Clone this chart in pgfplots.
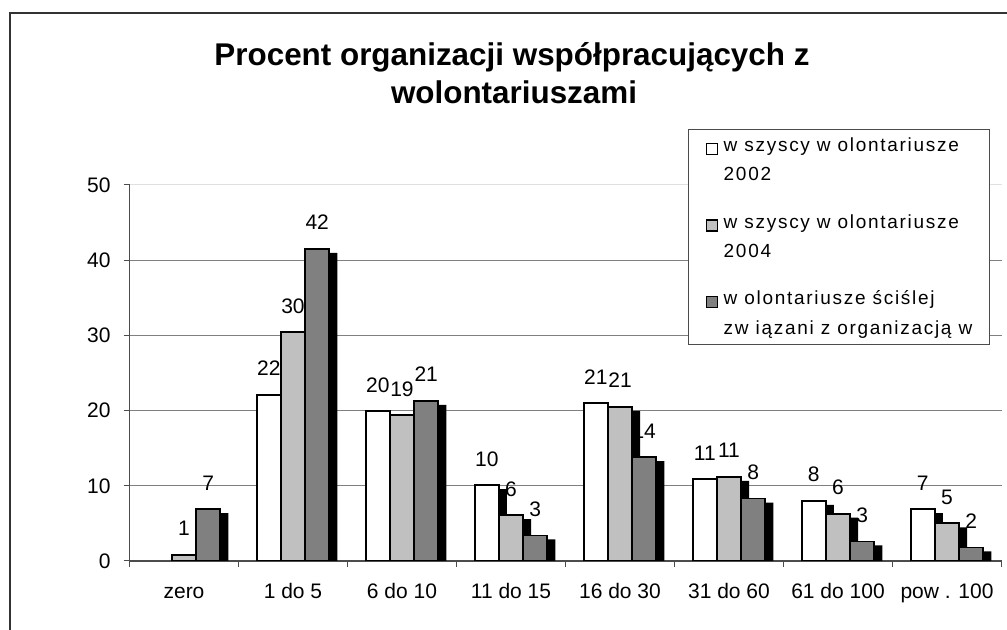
\documentclass[border=0pt]{standalone}
\usepackage{fontspec}
\setmainfont{Liberation Sans}
\newfontfamily\legfont[LetterSpace=9]{Liberation Sans}
\usepackage{pgfplots}
\usepackage{pgfplotstable}
\pgfplotsset{compat=1.18}
\definecolor{gA}{HTML}{FFFFFF}
\definecolor{gB}{HTML}{C0C0C0}
\definecolor{gC}{HTML}{808080}
\pgfplotsset{sqlegend/.style={legend image code/.code={\draw[##1,draw=black,line width=0.6pt] (0pt,-1.5pt) rectangle (5.5pt,4pt);}}}
\pgfplotstableread{
x a b c la lb lc
0 0 0.8 6.9 0 1 7
1 22.1 30.4 41.5 22 30 42
2 19.9 19.4 21.3 20 19 21
3 10.1 6.1 3.4 10 6 3
4 21.0 20.5 13.8 21 21 14
5 10.9 11.2 8.3 11 11 8
6 8.0 6.3 2.6 8 6 3
7 6.9 5.0 1.8 7 5 2
}\data
\begin{document}
\begin{tikzpicture}
\useasboundingbox (0,0) rectangle (503.5pt,315pt);
\draw[line width=1pt, black!80] (5pt,-5pt) -- (5pt,308.5pt) -- (510pt,308.5pt);
\node[anchor=base, font=\bfseries\fontsize{15.7}{18}\selectfont] at (256pt,282pt) {Procent organizacji współpracujących z};
\node[anchor=base, font=\bfseries\fontsize{15.7}{18}\selectfont] at (257pt,263pt) {wolontariuszami};
\begin{axis}[
  at={(64.75pt,34.5pt)}, anchor=south west,
  scale only axis, width=436pt, height=188pt,
  xmin=-0.5, xmax=7.5, ymin=0, ymax=50,
  axis x line*=bottom, axis y line*=left,
  axis line style={black!70, line width=0.6pt},
  xtick={0,...,7},
  xticklabels={zero,1 do 5,6 do 10,11 do 15,16 do 30,31 do 60,61 do 100,pow . 100},
  major x tick style={draw=none},
  minor xtick={-0.5,0.5,...,7.5},
  minor x tick style={black!70, line width=0.5pt},
  tick align=outside, major tick length=3pt, minor tick length=3pt,
  ytick={0,10,20,30,40}, extra y ticks={50},
  extra y tick style={grid style={black!12, line width=0.5pt}},
  ymajorgrids, grid style={black!50, line width=0.5pt},
  y tick style={black!70, line width=0.5pt},
  /pgf/number format/assume math mode=true,
  ticklabel style={font=\fontsize{10.5}{12}\selectfont},
  xticklabel style={anchor=base, yshift=-16pt},
  yticklabel style={xshift=-3pt},
  bar width=0.2222,
  nodes near coords style={font=\fontsize{10.5}{12}\selectfont, black, anchor=base, inner sep=0pt, yshift=9.5pt},
  legend style={at={(0.6405,1.149)}, anchor=north west, draw=black!70, line width=0.5pt, fill=white,
    inner xsep=8.5pt, inner ysep=0.7pt, row sep=8.9pt, column sep=3pt,
    font=\legfont\fontsize{9.5}{14.7}\selectfont, nodes={inner sep=0pt, text depth=, text height=}},
  legend cell align=left,
  legend style={cells={anchor=base west}},
]
% shadows
\addplot[ybar, bar shift=-0.2222, fill=black, draw=none, xshift=4pt, yshift=-2pt, forget plot, skip coords between index={0}{1}] table[x=x,y=a] {\data};
\addplot[ybar, bar shift=0, fill=black, draw=none, xshift=4pt, yshift=-2pt, forget plot] table[x=x,y=b] {\data};
\addplot[ybar, bar shift=0.2222, fill=black, draw=none, xshift=4pt, yshift=-2pt, forget plot] table[x=x,y=c] {\data};
% bars
\addplot[ybar, bar shift=-0.2222, fill=gA, draw=black, line width=0.9pt, skip coords between index={0}{1},
  nodes near coords, point meta=explicit symbolic, sqlegend,
  every node near coord/.append style={xshift=-12.11pt}]
  table[x=x,y=a,meta=la] {\data};
\addlegendentry{\begin{tabular}[t]{@{}l@{}}\makebox[123pt][l]{w szyscy w olontariusze}\\2002\end{tabular}}
\addplot[ybar, bar shift=0, fill=gB, draw=black, line width=0.9pt,
  nodes near coords, point meta=explicit symbolic, sqlegend]
  table[x=x,y=b,meta=lb] {\data};
\addlegendentry{\begin{tabular}[t]{@{}l@{}}w szyscy w olontariusze\\2004\end{tabular}}
\addplot[ybar, bar shift=0.2222, fill=gC, draw=black, line width=0.9pt,
  nodes near coords, point meta=explicit symbolic, sqlegend,
  every node near coord/.append style={xshift=12.11pt}]
  table[x=x,y=c,meta=lc] {\data};
\addlegendentry{\begin{tabular}[t]{@{}l@{}}w olontariusze ściślej\\zw iązani z organizacją w\end{tabular}}
\end{axis}
\end{tikzpicture}
\end{document}
